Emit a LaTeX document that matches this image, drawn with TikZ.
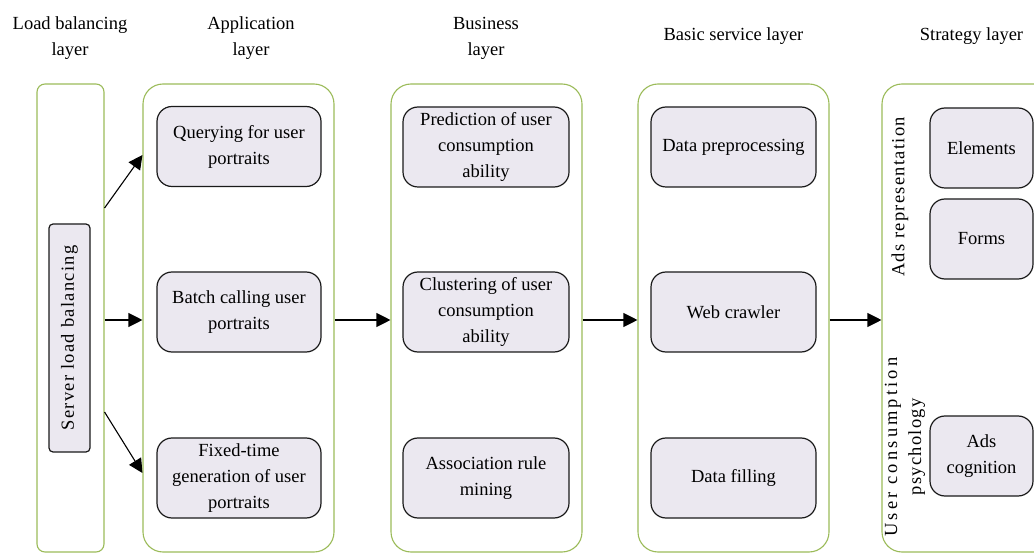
\documentclass[tikz,border=0pt]{standalone}
\usepackage{fontspec}
\setmainfont{Liberation Serif}
\newfontfamily\spacedA[LetterSpace=7]{Liberation Serif}
\newfontfamily\spacedB[LetterSpace=17]{Liberation Serif}
\usetikzlibrary{arrows.meta}
\definecolor{layergreen}{HTML}{9BBB59}
\definecolor{boxfill}{HTML}{EBE8F0}
\definecolor{boxline}{HTML}{1A1A1A}
\begin{document}
\begin{tikzpicture}[x=1pt,y=-1pt,
  every node/.style={font=\fontsize{18.5}{26}\selectfont, inner sep=0pt},
  container/.style={draw=layergreen, line width=1.1pt, rounded corners=20pt, minimum height=468pt},
  item/.style={draw=boxline, fill=boxfill, line width=1.2pt, rounded corners=15pt, align=center, minimum height=80pt},
  title/.style={align=center},
  link/.style={line width=1.1pt, -{Triangle[length=14pt,width=14pt]}}
]
\useasboundingbox (0,0) rectangle (1034,553);
% titles
\node[title] (t1) at (70,38) {Load balancing\\layer};
\node[title] (t2) at (251,38) {Application\\layer};
\node[title] (t3) at (486,38) {Business\\layer};
\node[title] (t4) at (733.5,36) {Basic service layer};
\node[title] (t5) at (971.5,36) {Strategy layer};
% containers
\node[container, rounded corners=8pt, minimum width=67pt] (load) at (70.5,318) {};
\node[container, minimum width=191pt] (app) at (238.5,318) {};
\node[container, minimum width=191pt] (bus) at (486.5,318) {};
\node[container, minimum width=191pt] (bas) at (733.5,318) {};
\node[container, minimum width=190pt] (str) at (977,318) {};
% load balancing
\node[draw=boxline, fill=boxfill, line width=1.2pt, rounded corners=4pt, minimum width=41pt, minimum height=228pt] (slb) at (69.5,338) {};
\node[rotate=90, font=\fontsize{18.5}{26}\spacedA] (slbt) at (slb.center) {Server load balancing};
% application
\node[item, minimum width=164pt] (q) at (239,146.5) {Querying for user\\portraits};
\node[item, minimum width=164pt] (b) at (239,312) {Batch calling user\\portraits};
\node[item, minimum width=164pt] (f) at (239,478) {Fixed-time\\generation of user\\portraits};
% business
\node[item, minimum width=166pt] (p) at (486,147) {Prediction of user\\consumption\\ability};
\node[item, minimum width=166pt] (c) at (486,312) {Clustering of user\\consumption\\ability};
\node[item, minimum width=166pt] (a) at (486,478) {Association rule\\mining};
% basic service
\node[item, minimum width=165pt] (d) at (733.5,147) {Data preprocessing};
\node[item, minimum width=165pt] (w) at (733.5,312) {Web crawler};
\node[item, minimum width=165pt] (df) at (733.5,478) {Data filling};
% strategy
\node[rotate=90, font=\fontsize{18.5}{26}\spacedA] (ar) at (900,197) {Ads representation};
\node[rotate=90, align=center, font=\fontsize{18.5}{24}\selectfont] (ucp) at (905,447) {{\spacedB User consumption}\\{\spacedA psychology}};
\node[item, minimum width=103pt] (el) at (981.5,148) {Elements};
\node[item, minimum width=103pt] (fo) at (981.5,239) {Forms};
\node[item, minimum width=103pt] (ac) at (981.5,456) {Ads\\cognition};
% connectors
\draw[link] ([yshift=110pt]load.east) -- ([yshift=163pt]app.west);
\draw[link] ([yshift=-2pt]load.east) -- ([yshift=-2pt]app.west);
\draw[link] ([yshift=-94pt]load.east) -- ([yshift=-155pt]app.west);
\draw[link] ([yshift=-2pt]app.east) -- ([yshift=-2pt]bus.west);
\draw[link] ([yshift=-2pt]bus.east) -- ([yshift=-2pt]bas.west);
\draw[link] ([yshift=-2pt]bas.east) -- ([yshift=-2pt]str.west);
\end{tikzpicture}
\end{document}
